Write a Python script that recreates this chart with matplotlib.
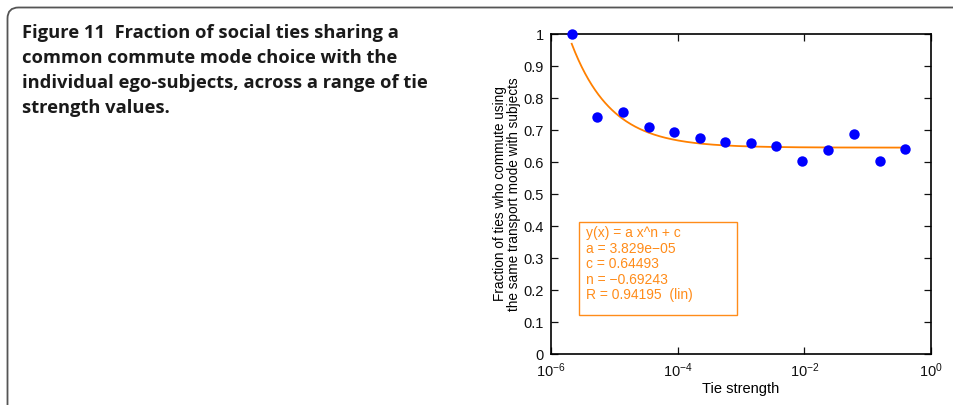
import numpy as np
import matplotlib
matplotlib.use("Agg")
import matplotlib.pyplot as plt
from matplotlib.path import Path
from matplotlib.patches import PathPatch, Rectangle

plt.rcParams["mathtext.fontset"] = "custom"
plt.rcParams["mathtext.rm"] = "Liberation Sans"
plt.rcParams["mathtext.it"] = "Liberation Sans:italic"
plt.rcParams["mathtext.bf"] = "Liberation Sans:bold"
plt.rcParams["mathtext.default"] = "rm"

# ---- data ----
log_tie_strength = [-5.673, -5.27, -4.87, -4.46, -4.06, -3.65, -3.25,
                    -2.84, -2.44, -2.03, -1.62, -1.22, -0.81, -0.41]
fraction_same_mode = [1.000, 0.740, 0.757, 0.709, 0.695, 0.676, 0.664,
                      0.659, 0.649, 0.602, 0.639, 0.686, 0.604, 0.641]
fit_a = 3.829e-05
fit_c = 0.64493
fit_n = -0.69243
fit_R = 0.94195
x_tick_exps = [-6, -4, -2, 0]
y_ticks = [0, 0.1, 0.2, 0.3, 0.4, 0.5, 0.6, 0.7, 0.8, 0.9, 1]
y_tick_labels = ["0", "0.1", "0.2", "0.3", "0.4", "0.5", "0.6", "0.7", "0.8", "0.9", "1"]
title_lines = ["Figure 11  Fraction of social ties sharing a",
               "common commute mode choice with the",
               "individual ego-subjects, across a range of tie",
               "strength values."]
fit_lines = ["y(x) = a x^n + c",
             "a = 3.829e\u221205",
             f"c = {fit_c}",
             f"n = \u2212{abs(fit_n)}",
             f"R = {fit_R}  (lin)"]

W, H = 954, 405
fig = plt.figure(figsize=(W / 100, H / 100), dpi=100)

def fx(px):
    return px / W

def fy(py):
    return 1 - py / H

# outer frame (rounded corner top-left)
r = 11
x0, y0 = 7.5, 7.5
verts = [(x0, H + 5), (x0, y0 + r), (x0, y0), (x0 + r, y0), (W + 5, y0)]
codes = [Path.MOVETO, Path.LINETO, Path.CURVE3, Path.CURVE3, Path.LINETO]
verts_f = [(fx(a), fy(b)) for a, b in verts]
fig.patches.append(PathPatch(Path(verts_f, codes), transform=fig.transFigure,
                             fill=False, edgecolor="#555555", lw=1.3))

# title
for i, line in enumerate(title_lines):
    fig.text(fx(22), fy(33 + 25 * i), line, fontsize=13.2, fontweight="bold",
             family="Open Sans", color="#1a1a1a", va="center", ha="left")

# axes
ax = fig.add_axes([fx(551), fy(354), fx(931) - fx(551), (354 - 34) / H])
xs = [10 ** v for v in log_tie_strength]
ax.plot(xs, fraction_same_mode, "o", color="#0000FF", markersize=7.5,
        markeredgewidth=0, zorder=3, clip_on=False)
xfit = np.logspace(log_tie_strength[0], log_tie_strength[-1], 300)
ax.plot(xfit, fit_a * xfit ** fit_n + fit_c, color="#FF8000", lw=1.3, zorder=2)
ax.set_xscale("log")
ax.set_xlim(1e-6, 1)
ax.set_ylim(0, 1)
ax.set_xticks([10.0 ** e for e in x_tick_exps])
ax.set_xticklabels([f"$10^{{{e}}}$" if e >= 0 else f"$10^{{\u2212{abs(e)}}}$" for e in x_tick_exps])
ax.xaxis.set_minor_locator(matplotlib.ticker.NullLocator())
ax.set_yticks(y_ticks)
ax.set_yticklabels(y_tick_labels)
ax.tick_params(direction="in", top=True, right=True, length=5, width=0.9,
               labelsize=10.5, pad=5, colors="#111111")
for lab in ax.get_xticklabels() + ax.get_yticklabels():
    lab.set_family("Liberation Sans")
for s in ax.spines.values():
    s.set_linewidth(1.2)
ax.set_xlabel("Tie strength", fontsize=10.5, family="Liberation Sans", labelpad=2)
ax.set_ylabel("Fraction of ties who commute using\nthe same transport mode with subjects",
              fontsize=9.8, family="Liberation Sans", linespacing=1.05)
ax.yaxis.set_label_coords(-0.078, 0.5)

# fit box
fig.patches.append(Rectangle((fx(579), fy(315)), fx(737) - fx(579), (315 - 222) / H,
                             transform=fig.transFigure, fill=False,
                             edgecolor="#FF8C1A", lw=1.0, zorder=5))
for i, line in enumerate(fit_lines):
    fig.text(fx(586), fy(233 + 15.6 * i), line, fontsize=10, color="#FF8C1A",
             family="Liberation Sans", va="center", ha="left")

fig.savefig("out.png", dpi=100)
